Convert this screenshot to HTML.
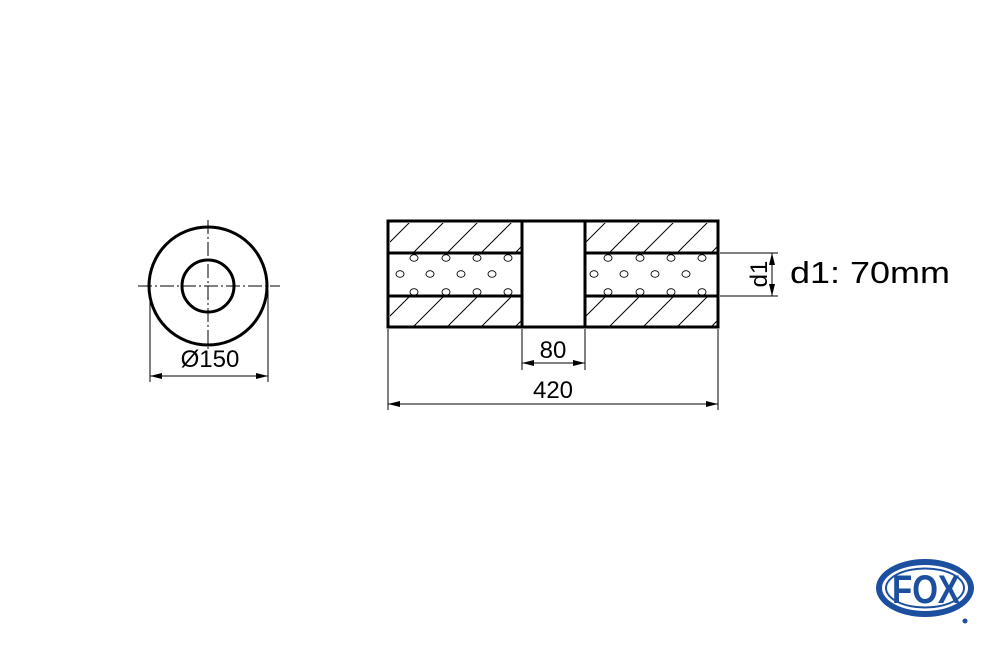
<!DOCTYPE html>
<html><head><style>body{margin:0;background:#fff}svg{display:block}</style></head><body>
<svg width="1000" height="645" viewBox="0 0 1000 645" xmlns="http://www.w3.org/2000/svg" font-family="Liberation Sans, sans-serif">
<defs>
<marker id="a" viewBox="0 0 12 6" refX="12" refY="3" markerWidth="12" markerHeight="6" orient="auto-start-reverse" markerUnits="userSpaceOnUse"><path d="M0,0L12,3L0,6z" fill="#000"/></marker>
<clipPath id="c1"><rect x="390" y="223" width="131" height="29"/><rect x="390" y="297" width="131" height="29"/><rect x="586" y="223" width="131" height="29"/><rect x="586" y="297" width="131" height="29"/></clipPath>
</defs>
<circle cx="208" cy="286" r="59" fill="none" stroke="#000" stroke-width="3"/>
<circle cx="208" cy="286" r="26" fill="none" stroke="#000" stroke-width="3"/>
<g stroke="#000" stroke-width="1" stroke-dasharray="14,3,2,3">
<line x1="138" y1="286" x2="280" y2="286"/><line x1="208" y1="220" x2="208" y2="350"/></g>
<g stroke="#000" stroke-width="1"><line x1="150" y1="290" x2="150" y2="382"/><line x1="268" y1="290" x2="268" y2="382"/>
<line x1="150" y1="376" x2="268" y2="376" marker-start="url(#a)" marker-end="url(#a)"/></g>
<text x="210" y="367" font-size="24" text-anchor="middle">Ø150</text>
<g clip-path="url(#c1)" stroke="#000" stroke-width="1">
<path d="M370,262L420,212M404,262L454,212M438,262L488,212M472,262L522,212M506,262L556,212M370,336L420,286M404,336L454,286M438,336L488,286M472,336L522,286M506,336L556,286M566,262L616,212M600,262L650,212M634,262L684,212M668,262L718,212M702,262L752,212M566,336L616,286M600,336L650,286M634,336L684,286M668,336L718,286M702,336L752,286"/>
</g>
<g fill="none" stroke="#000" stroke-width="3">
<rect x="388" y="221" width="330" height="106"/>
<line x1="522" y1="221" x2="522" y2="327"/><line x1="585" y1="221" x2="585" y2="327"/>
<line x1="388" y1="253" x2="522" y2="253"/><line x1="388" y1="296" x2="522" y2="296"/>
<line x1="585" y1="253" x2="718" y2="253"/><line x1="585" y1="296" x2="718" y2="296"/>
</g>
<g fill="none" stroke="#000" stroke-width="0.9">
<g id="h"><ellipse cx="414" cy="258" rx="4" ry="3.3"/><ellipse cx="446" cy="258" rx="4" ry="3.3"/><ellipse cx="477" cy="258" rx="4" ry="3.3"/><ellipse cx="508" cy="258" rx="4" ry="3.3"/>
<ellipse cx="400" cy="274" rx="4" ry="3.3"/><ellipse cx="430" cy="274" rx="4" ry="3.3"/><ellipse cx="461" cy="274" rx="4" ry="3.3"/><ellipse cx="492" cy="274" rx="4" ry="3.3"/>
<ellipse cx="414" cy="292" rx="4" ry="3.3"/><ellipse cx="446" cy="292" rx="4" ry="3.3"/><ellipse cx="477" cy="292" rx="4" ry="3.3"/><ellipse cx="508" cy="292" rx="4" ry="3.3"/></g>
<use href="#h" x="194"/>
</g>
<g stroke="#000" stroke-width="1">
<line x1="522" y1="329" x2="522" y2="370"/><line x1="585" y1="329" x2="585" y2="370"/>
<line x1="522" y1="363" x2="585" y2="363" marker-start="url(#a)" marker-end="url(#a)"/>
<line x1="388" y1="329" x2="388" y2="410"/><line x1="718" y1="329" x2="718" y2="410"/>
<line x1="388" y1="404" x2="718" y2="404" marker-start="url(#a)" marker-end="url(#a)"/>
<line x1="720" y1="253" x2="778" y2="253"/><line x1="720" y1="296" x2="778" y2="296"/>
<line x1="772" y1="253" x2="772" y2="296" marker-start="url(#a)" marker-end="url(#a)"/>
</g>
<text x="553" y="358" font-size="24" text-anchor="middle">80</text>
<text x="553" y="398" font-size="24" text-anchor="middle">420</text>
<text transform="translate(767,274) rotate(-90)" font-size="24" text-anchor="middle">d1</text>
<text x="790" y="283" font-size="31" textLength="160" lengthAdjust="spacingAndGlyphs">d1: 70mm</text>
<ellipse cx="925" cy="588" rx="49" ry="29" fill="#1c4fa0"/>
<ellipse cx="925" cy="588" rx="43" ry="23" fill="#fff"/>
<ellipse cx="925" cy="588" rx="40" ry="20.5" fill="#1c4fa0"/>
<ellipse cx="925" cy="588" rx="38" ry="18.5" fill="#fff"/>
<text x="892" y="603" font-size="40" font-weight="bold" fill="#1c4fa0" textLength="68" lengthAdjust="spacingAndGlyphs">FOX</text>
<circle cx="965" cy="621" r="2.5" fill="#1c4fa0"/>
</svg>
</body></html>
